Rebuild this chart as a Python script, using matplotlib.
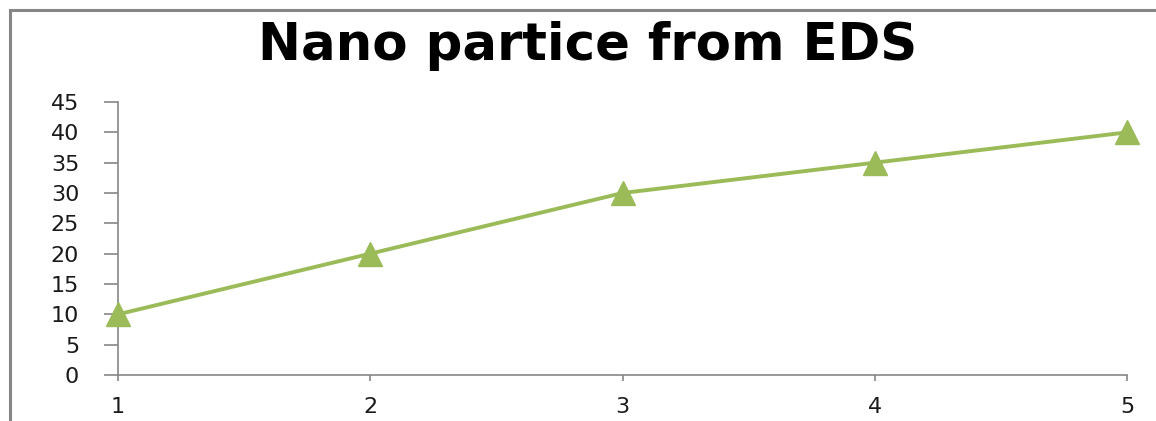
import matplotlib.pyplot as plt
from matplotlib.lines import Line2D

# data
x = [1, 2, 3, 4, 5]
y = [10, 20, 30, 35, 40]
yticks = [0, 5, 10, 15, 20, 25, 30, 35, 40, 45]

green = '#9BBB59'
grey = '#868686'

fig = plt.figure(figsize=(11.56, 4.21), dpi=100)
ax = fig.add_axes([0.1021, 0.1093, 0.975 - 0.1021, 0.7577 - 0.1093])

ax.plot(x, y, color=green, lw=2.8, marker='^', markersize=17, clip_on=False, zorder=3)

ax.set_xlim(1, 5)
ax.set_ylim(0, 45)
ax.set_xticks(x)
ax.set_yticks(yticks)

for s in ['top', 'right']:
    ax.spines[s].set_visible(False)
for s in ['left', 'bottom']:
    ax.spines[s].set_color(grey)
    ax.spines[s].set_linewidth(1.2)

ax.tick_params(axis='y', length=10, width=1.2, color=grey, pad=18, labelsize=16, labelcolor='#1a1a1a')
ax.tick_params(axis='x', length=4, width=1.2, color=grey, pad=12, labelsize=16, labelcolor='#1a1a1a')

fig.text(0.508, 0.89, 'Nano partice from EDS', ha='center', va='center',
         fontsize=37, fontweight='bold', color='black')

# outer chart frame (only left and top visible)
fig.add_artist(Line2D([10/1156, 10/1156], [0, 1 - 10/421], transform=fig.transFigure, color=grey, lw=2.2))
fig.add_artist(Line2D([10/1156, 1], [1 - 10/421, 1 - 10/421], transform=fig.transFigure, color=grey, lw=2.2))

fig.savefig('out.png', dpi=100)
